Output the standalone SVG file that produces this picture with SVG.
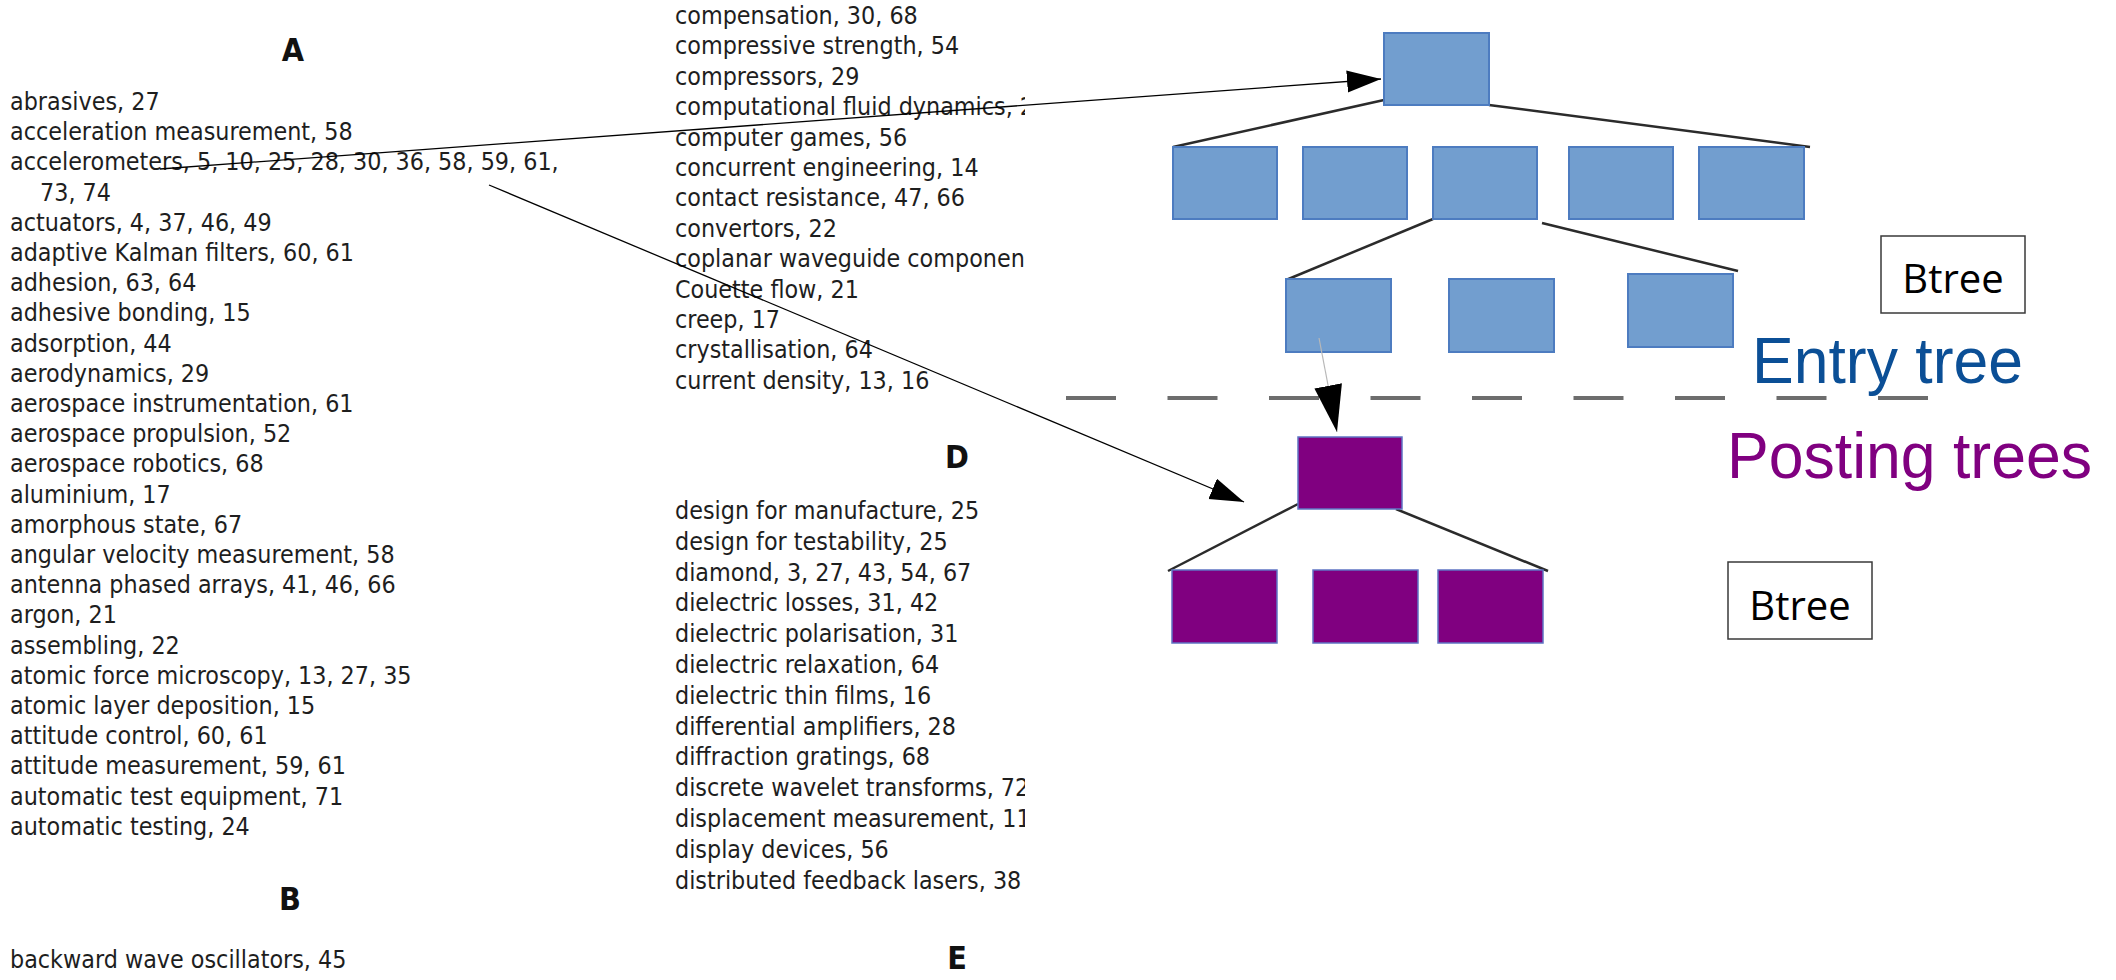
<svg xmlns="http://www.w3.org/2000/svg" width="2116" height="980" viewBox="0 0 2116 980">
<style>
.idx{font-family:"DejaVu Sans Condensed","DejaVu Sans","Liberation Sans",sans-serif;font-stretch:condensed;font-size:24.8px;fill:#1e1e1e}
.hdr{font-family:"DejaVu Sans Condensed","DejaVu Sans","Liberation Sans",sans-serif;font-stretch:condensed;font-weight:bold;font-size:32px;fill:#111;text-anchor:middle}
.eb{fill:#729ecf;stroke:#4d7cc0;stroke-width:2}
.pb{fill:#800080;stroke:#5f74c4;stroke-width:1.5}
.tl{stroke:#2b2b2b;stroke-width:2.5;fill:none}
.arr{stroke:#000;stroke-width:1.3;fill:none}
.btb{fill:#fff;stroke:#3a3a3a;stroke-width:1.5}
.btt{font-family:"Open Sans","Liberation Sans",sans-serif;font-size:40px;fill:#000;text-anchor:middle}
.big{font-family:"Liberation Sans",Arial,sans-serif;font-size:64px}
</style>
<defs>
<clipPath id="midclip"><rect x="600" y="0" width="425" height="980"/></clipPath>
<marker id="ah" markerUnits="userSpaceOnUse" markerWidth="36" markerHeight="24" refX="34" refY="11" orient="auto"><path d="M0,0 L34,11 L0,22 z" fill="#000"/></marker>
<marker id="ahb" markerUnits="userSpaceOnUse" markerWidth="50" markerHeight="30" refX="47" refY="14" orient="auto"><path d="M0,0 L47,14 L0,28 z" fill="#000"/></marker>
</defs>
<rect width="2116" height="980" fill="#fff"/>

<g id="index-left">
<text class="hdr" x="293" y="61">A</text>
<text class="idx" x="10" y="110">abrasives, 27</text>
<text class="idx" x="10" y="140.2">acceleration measurement, 58</text>
<text class="idx" x="10" y="170.4">accelerometers, 5, 10, 25, 28, 30, 36, 58, 59, 61,</text>
<text class="idx" x="40" y="200.6">73, 74</text>
<text class="idx" x="10" y="230.8">actuators, 4, 37, 46, 49</text>
<text class="idx" x="10" y="261">adaptive Kalman filters, 60, 61</text>
<text class="idx" x="10" y="291.2">adhesion, 63, 64</text>
<text class="idx" x="10" y="321.4">adhesive bonding, 15</text>
<text class="idx" x="10" y="351.6">adsorption, 44</text>
<text class="idx" x="10" y="381.8">aerodynamics, 29</text>
<text class="idx" x="10" y="412">aerospace instrumentation, 61</text>
<text class="idx" x="10" y="442.2">aerospace propulsion, 52</text>
<text class="idx" x="10" y="472.4">aerospace robotics, 68</text>
<text class="idx" x="10" y="502.6">aluminium, 17</text>
<text class="idx" x="10" y="532.8">amorphous state, 67</text>
<text class="idx" x="10" y="563">angular velocity measurement, 58</text>
<text class="idx" x="10" y="593.2">antenna phased arrays, 41, 46, 66</text>
<text class="idx" x="10" y="623.4">argon, 21</text>
<text class="idx" x="10" y="653.6">assembling, 22</text>
<text class="idx" x="10" y="683.8">atomic force microscopy, 13, 27, 35</text>
<text class="idx" x="10" y="714">atomic layer deposition, 15</text>
<text class="idx" x="10" y="744.2">attitude control, 60, 61</text>
<text class="idx" x="10" y="774.4">attitude measurement, 59, 61</text>
<text class="idx" x="10" y="804.6">automatic test equipment, 71</text>
<text class="idx" x="10" y="834.8">automatic testing, 24</text>
<text class="hdr" x="290" y="910">B</text>
<text class="idx" x="10" y="968">backward wave oscillators, 45</text>
</g>

<g id="index-middle" clip-path="url(#midclip)">
<text class="idx" x="675" y="24">compensation, 30, 68</text>
<text class="idx" x="675" y="54.4">compressive strength, 54</text>
<text class="idx" x="675" y="84.8">compressors, 29</text>
<text class="idx" x="675" y="115.2">computational fluid dynamics, 2</text>
<text class="idx" x="675" y="145.6">computer games, 56</text>
<text class="idx" x="675" y="176">concurrent engineering, 14</text>
<text class="idx" x="675" y="206.4">contact resistance, 47, 66</text>
<text class="idx" x="675" y="236.8">convertors, 22</text>
<text class="idx" x="675" y="267.2">coplanar waveguide componen</text>
<text class="idx" x="675" y="297.6">Couette flow, 21</text>
<text class="idx" x="675" y="328">creep, 17</text>
<text class="idx" x="675" y="358.4">crystallisation, 64</text>
<text class="idx" x="675" y="388.8">current density, 13, 16</text>
<text class="hdr" x="957" y="468">D</text>
<text class="idx" x="675" y="519">design for manufacture, 25</text>
<text class="idx" x="675" y="549.8">design for testability, 25</text>
<text class="idx" x="675" y="580.6">diamond, 3, 27, 43, 54, 67</text>
<text class="idx" x="675" y="611.4">dielectric losses, 31, 42</text>
<text class="idx" x="675" y="642.2">dielectric polarisation, 31</text>
<text class="idx" x="675" y="673">dielectric relaxation, 64</text>
<text class="idx" x="675" y="703.8">dielectric thin films, 16</text>
<text class="idx" x="675" y="734.6">differential amplifiers, 28</text>
<text class="idx" x="675" y="765.4">diffraction gratings, 68</text>
<text class="idx" x="675" y="796.2">discrete wavelet transforms, 72</text>
<text class="idx" x="675" y="827">displacement measurement, 11</text>
<text class="idx" x="675" y="857.8">display devices, 56</text>
<text class="idx" x="675" y="888.6">distributed feedback lasers, 38</text>
<text class="hdr" x="957" y="969">E</text>
</g>

<g id="tree-lines">
<line class="tl" x1="1384" y1="100" x2="1173" y2="147"/>
<line class="tl" x1="1489" y1="105" x2="1810" y2="147"/>
<line class="tl" x1="1433" y1="219" x2="1286" y2="280"/>
<line class="tl" x1="1542" y1="223" x2="1738" y2="271"/>
<line class="tl" x1="1298" y1="504" x2="1168" y2="571"/>
<line class="tl" x1="1396" y1="509" x2="1548" y2="571"/>
</g>

<g id="entry-root"><rect class="eb" x="1384" y="33" width="105" height="72"/></g>
<g id="entry-l2-1"><rect class="eb" x="1173" y="147" width="104" height="72"/></g>
<g id="entry-l2-2"><rect class="eb" x="1303" y="147" width="104" height="72"/></g>
<g id="entry-l2-3"><rect class="eb" x="1433" y="147" width="104" height="72"/></g>
<g id="entry-l2-4"><rect class="eb" x="1569" y="147" width="104" height="72"/></g>
<g id="entry-l2-5"><rect class="eb" x="1699" y="147" width="105" height="72"/></g>
<g id="entry-l3-1"><rect class="eb" x="1286" y="279" width="105" height="73"/></g>
<g id="entry-l3-2"><rect class="eb" x="1449" y="279" width="105" height="73"/></g>
<g id="entry-l3-3"><rect class="eb" x="1628" y="274" width="105" height="73"/></g>

<g id="posting-root"><rect class="pb" x="1298" y="437" width="104" height="72"/></g>
<g id="posting-c1"><rect class="pb" x="1172" y="570" width="105" height="73"/></g>
<g id="posting-c2"><rect class="pb" x="1313" y="570" width="105" height="73"/></g>
<g id="posting-c3"><rect class="pb" x="1438" y="570" width="105" height="73"/></g>

<g id="separator">
<line x1="1066" y1="398" x2="1930" y2="398" stroke="#6d6d6d" stroke-width="4" stroke-dasharray="50 51.5"/>
</g>

<g id="connectors">
<line class="arr" x1="160" y1="169" x2="1381" y2="79" marker-end="url(#ah)"/>
<line class="arr" x1="489" y1="185" x2="1244" y2="502" stroke-width="1.1" marker-end="url(#ah)"/>
<line x1="1319" y1="338" x2="1337" y2="432" stroke="#b8b8b8" stroke-width="1.2" marker-end="url(#ahb)"/>
</g>

<g id="label-entry"><text class="big" x="1752" y="383" fill="#0b4f96" textLength="271" lengthAdjust="spacingAndGlyphs">Entry tree</text></g>
<g id="label-posting"><text class="big" x="1727" y="478" fill="#800080" textLength="365" lengthAdjust="spacingAndGlyphs">Posting trees</text></g>

<g id="btree-1">
<rect class="btb" x="1881" y="236" width="144" height="77"/>
<text class="btt" x="1953" y="293">Btree</text>
</g>
<g id="btree-2">
<rect class="btb" x="1728" y="562" width="144" height="77"/>
<text class="btt" x="1800" y="620">Btree</text>
</g>
</svg>
